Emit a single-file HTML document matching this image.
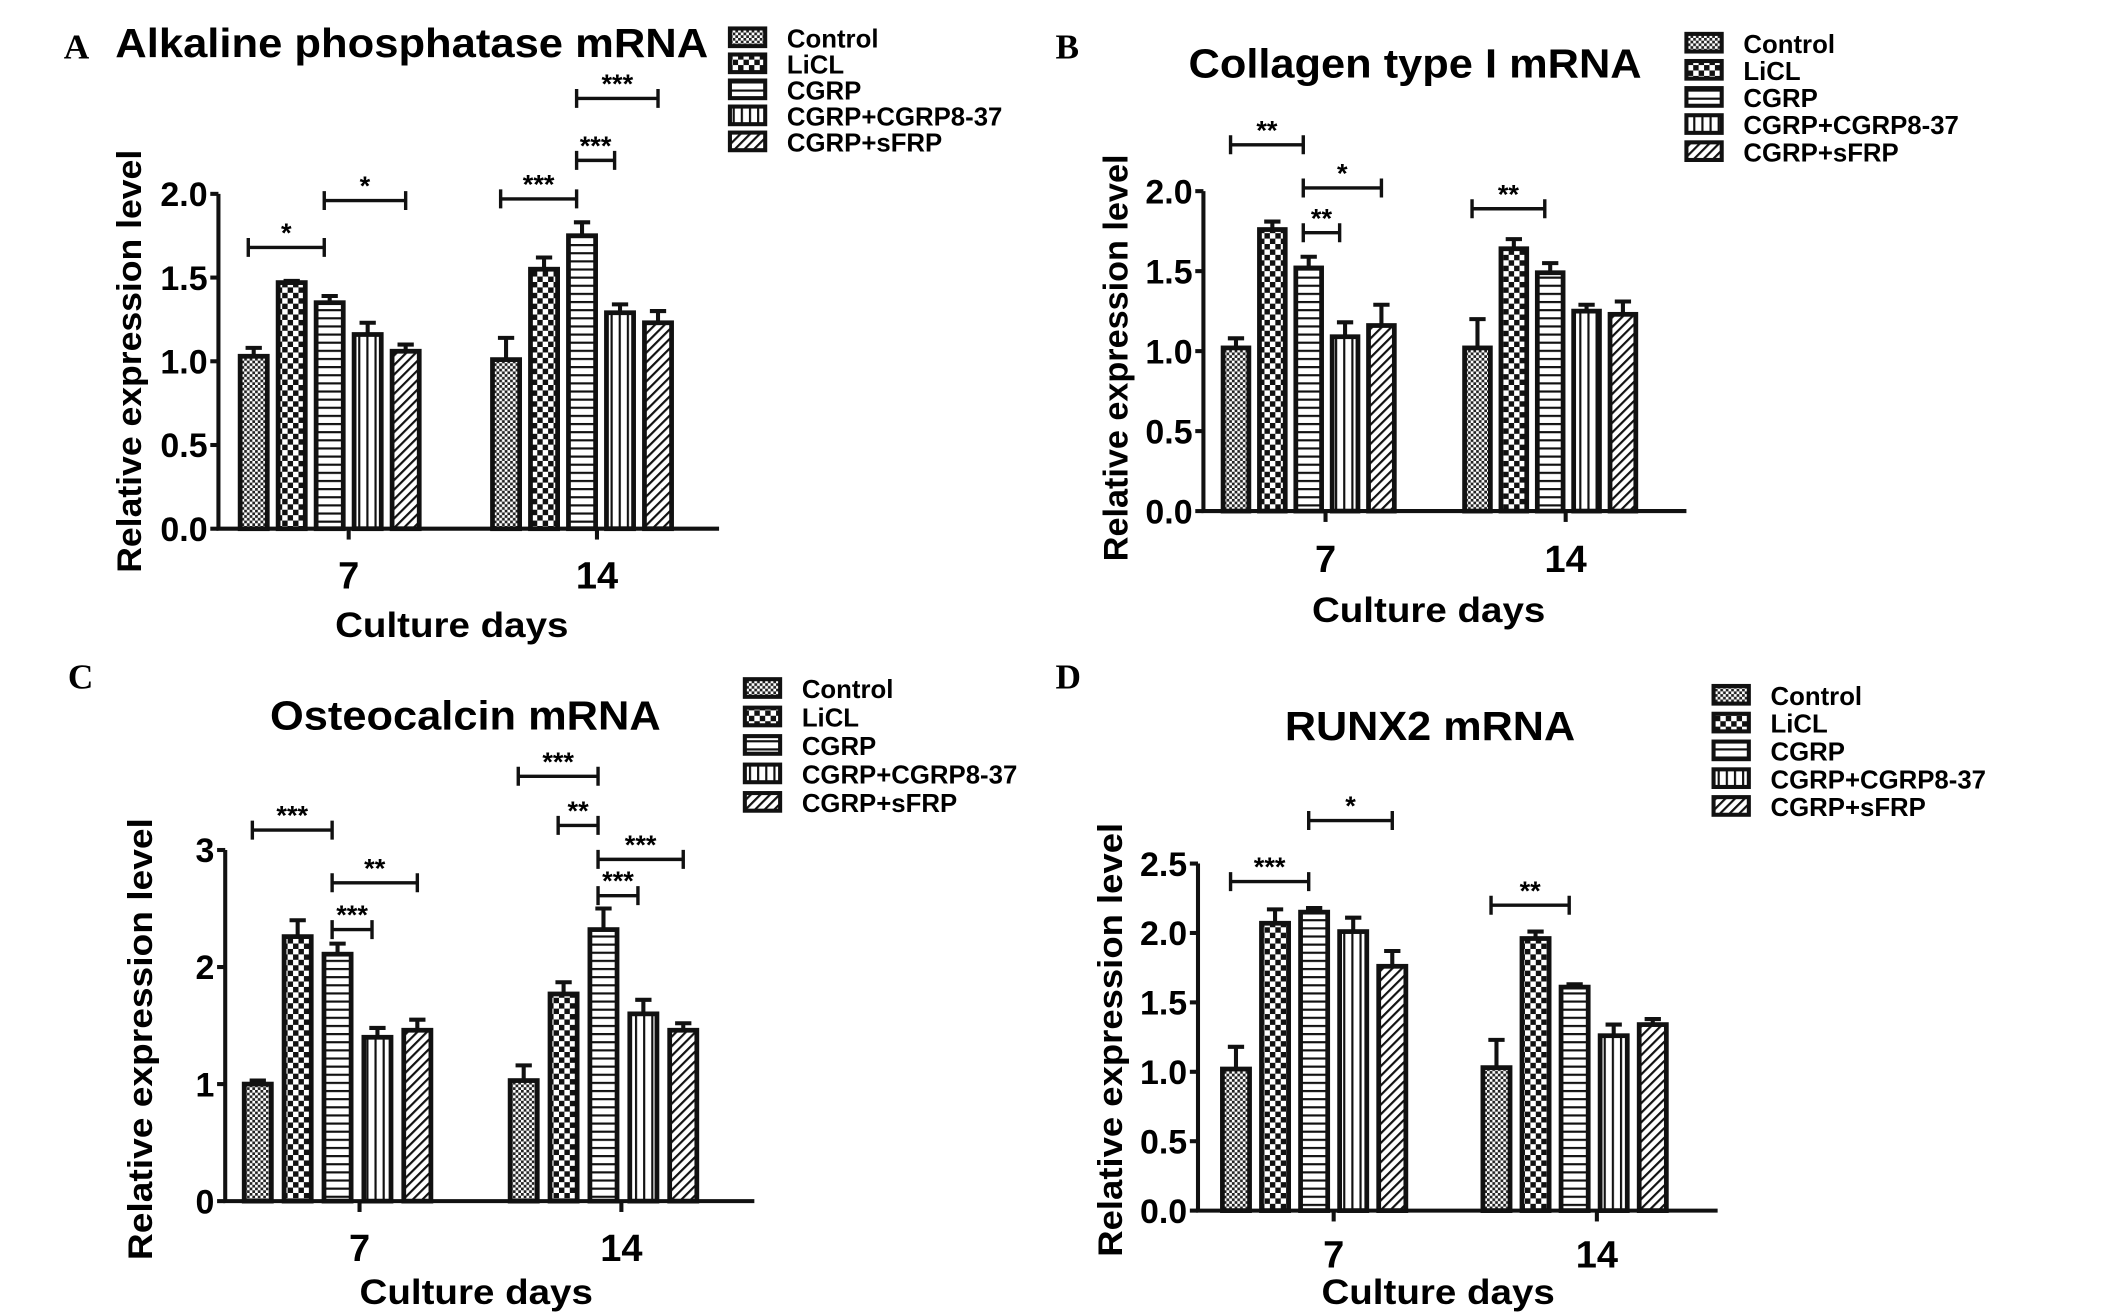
<!DOCTYPE html>
<html><head><meta charset="utf-8"><style>
html,body{margin:0;padding:0;background:#fff;}
svg{display:block;font-family:"Liberation Sans",Arial,sans-serif;font-weight:bold;}
</style></head><body>
<svg id="fig" width="2126" height="1315" viewBox="0 0 1567 970" preserveAspectRatio="none" xmlns="http://www.w3.org/2000/svg">
<defs>
<pattern id="p0" width="4" height="4" patternUnits="userSpaceOnUse"><rect width="4" height="4" fill="#fff"/><rect width="2" height="2" fill="#222"/><rect x="2" y="2" width="2" height="2" fill="#222"/></pattern>
<pattern id="p1" width="8" height="8" patternUnits="userSpaceOnUse"><rect width="8" height="8" fill="#fff"/><rect width="4" height="4" fill="#111"/><rect x="4" y="4" width="4" height="4" fill="#111"/></pattern>
<pattern id="p2" width="6" height="6" patternUnits="userSpaceOnUse"><rect width="6" height="6" fill="#fff"/><rect y="0" width="6" height="1.6" fill="#111"/></pattern>
<pattern id="p3" width="6" height="6" patternUnits="userSpaceOnUse"><rect width="6" height="6" fill="#fff"/><rect x="0" width="1.6" height="6" fill="#111"/></pattern>
<pattern id="p4" width="5" height="5" patternUnits="userSpaceOnUse" patternTransform="rotate(45)"><rect width="5" height="5" fill="#fff"/><rect width="1.6" height="5" fill="#111"/></pattern>
</defs>
</svg>
<script>
const seriesNames=["Control","LiCL","CGRP","CGRP+CGRP8-37","CGRP+sFRP"];
const categories=["7","14"];
// Panel A
const aValues7=[1.03,1.47,1.35,1.16,1.06];
const aValues14=[1.01,1.55,1.75,1.29,1.23];
const aErr7=[0.05,0.01,0.04,0.07,0.04];
const aErr14=[0.13,0.07,0.08,0.05,0.07];
const aTicks=["0.0","0.5","1.0","1.5","2.0"];
const aSig=[[0,0,2,1.68,"*"],[0,2,4,1.96,"*"],[1,0,2,1.97,"***"],[1,2,3,2.2,"***"],[1,2,4,2.57,"***"]];
// Panel B
const bValues7=[1.02,1.76,1.52,1.09,1.16];
const bValues14=[1.02,1.64,1.49,1.25,1.23];
const bErr7=[0.06,0.05,0.07,0.09,0.13];
const bErr14=[0.18,0.06,0.06,0.04,0.08];
const bTicks=["0.0","0.5","1.0","1.5","2.0"];
const bSig=[[0,0,2,2.29,"**"],[0,2,4,2.02,"*"],[0,2,3,1.74,"**"],[1,0,2,1.89,"**"]];
// Panel C
const cValues7=[1.0,2.26,2.11,1.40,1.46];
const cValues14=[1.03,1.77,2.32,1.60,1.46];
const cErr7=[0.03,0.14,0.09,0.08,0.09];
const cErr14=[0.13,0.10,0.18,0.12,0.06];
const cTicks=["0","1","2","3"];
const cSig=[[0,0,2,3.17,"***"],[0,2,4,2.72,"**"],[0,2,3,2.32,"***"],[1,0,2,3.63,"***"],[1,1,2,3.21,"**"],[1,2,4,2.92,"***"],[1,2,3,2.61,"***"]];
// Panel D
const dValues7=[1.02,2.07,2.15,2.01,1.76];
const dValues14=[1.03,1.96,1.61,1.26,1.34];
const dErr7=[0.16,0.10,0.03,0.10,0.11];
const dErr14=[0.20,0.05,0.02,0.08,0.04];
const dTicks=["0.0","0.5","1.0","1.5","2.0","2.5"];
const dSig=[[0,0,2,2.37,"***"],[0,2,4,2.81,"*"],[1,0,2,2.2,"**"]];

const NS="http://www.w3.org/2000/svg";
const svg=document.getElementById('fig');
function mk(tag,attrs,parent,text){const e=document.createElementNS(NS,tag);for(const k in attrs)e.setAttribute(k,attrs[k]);if(text!==undefined)e.textContent=text;(parent||svg).appendChild(e);return e;}

function panel(cfg){
  const g=mk('g',{});
  
  
  const ymax=parseFloat(cfg.ticks[cfg.ticks.length-1]);
  const y=v=>cfg.y0-(v/ymax)*(cfg.y0-cfg.yTop);
  const groups=[cfg.v7,cfg.v14], errs=[cfg.e7,cfg.e14];
  const bx=(gi,bi)=>cfg.gx[gi]+bi*cfg.step;
  const L=mk('text',{x:cfg.lx,y:cfg.ly,'font-family':'Liberation Serif,serif','font-size':26},g,cfg.letter);
  
  
  const T=mk('text',{x:cfg.tx,y:cfg.ty,'font-size':30,'text-anchor':cfg.tAnchor,textLength:cfg.tLen,lengthAdjust:'spacingAndGlyphs'},g,cfg.title);
  
  
  groups.forEach((vals,gi)=>{vals.forEach((v,bi)=>{
    const cx=bx(gi,bi), top=y(v), et=y(v+errs[gi][bi]);
    const eb=mk('path',{d:`M${cx} ${top}V${et}M${cx-6} ${et}H${cx+6}`,stroke:'#111','stroke-width':3,fill:'none'},g);
    
    
    const r=mk('rect',{x:cx-cfg.bw/2,y:top,width:cfg.bw,height:cfg.y0-top,fill:`url(#p${bi})`,stroke:'#111','stroke-width':3.5},g);
    
    
  });});
  const ax=mk('path',{d:`M${cfg.x0} ${cfg.yTop}V${cfg.y0}H${cfg.xEnd}`,stroke:'#111','stroke-width':3,fill:'none'},g);
  
  
  cfg.ticks.forEach(t=>{const yy=y(parseFloat(t));
    mk('path',{d:`M${cfg.x0-6} ${yy}H${cfg.x0}`,stroke:'#111','stroke-width':3},g);
    const tl=mk('text',{x:cfg.x0-8,y:yy+9,'font-size':25,'text-anchor':'end'},g,t);
    
    
  });
  categories.forEach((c,gi)=>{const cx=cfg.cx[gi];
    mk('path',{d:`M${cx} ${cfg.y0}V${cfg.y0+8}`,stroke:'#111','stroke-width':3},g);
    const tl=mk('text',{x:cx,y:cfg.y0+cfg.tkOff,'font-size':28,'text-anchor':'middle'},g,c);
    
    
  });
  const xt=mk('text',{x:cfg.xtX,y:cfg.y0+cfg.xtOff,'font-size':26,'text-anchor':'middle',textLength:172,lengthAdjust:'spacingAndGlyphs'},g,'Culture days');
  
  
  const ym=(cfg.y0+cfg.yTop)/2-cfg.ylShift;
  const yt=mk('text',{x:0,y:0,'font-size':25,'text-anchor':'middle',textLength:cfg.ylLen,lengthAdjust:'spacingAndGlyphs',transform:`translate(${cfg.ylx},${ym}) rotate(-90)`},g,'Relative expression level');
  
  
  cfg.sig.forEach(s=>{const x1=bx(s[0],s[1])-4,x2=bx(s[0],s[2])+(s[2]==4?0:-4),yy=y(s[3]);
    const b=mk('path',{d:`M${x1} ${yy-7}V${yy+7}M${x1} ${yy}H${x2}M${x2} ${yy-7}V${yy+7}`,stroke:'#111','stroke-width':2.5,fill:'none'},g);
    
    
    const st=mk('text',{x:(x1+x2)/2,y:yy-4,'font-size':20,'text-anchor':'middle'},g,s[4]);
    
    
  });
  seriesNames.forEach((n,i)=>{const yy=cfg.legY+i*cfg.legDy;
    const sw=mk('rect',{x:cfg.legX,y:yy-7,width:26,height:13,fill:`url(#p${i})`,stroke:'#111','stroke-width':3},g);
    
    
    const lt=mk('text',{x:cfg.legX+42,y:yy+7,'font-size':19},g,n);
    
    
  });
}
panel({id:'a',letter:'A',lx:47,ly:43,title:'Alkaline phosphatase mRNA',tx:85,ty:42,tAnchor:'start',tLen:437,
  v7:aValues7,v14:aValues14,e7:aErr7,e14:aErr14,ticks:aTicks,sig:aSig,tkOff:44,xtOff:80,
  x0:161,y0:390,yTop:143,xEnd:530,gx:[187,373],step:28,bw:20,cx:[257,440],xtX:333,ylx:104,ylShift:0,ylLen:312,
  legX:538,legY:28,legDy:19.2});
panel({id:'b',letter:'B',lx:778,ly:43,title:'Collagen type I mRNA',tx:1043,ty:57,tAnchor:'middle',tLen:334,
  v7:bValues7,v14:bValues14,e7:bErr7,e14:bErr14,ticks:bTicks,sig:bSig,tkOff:45,xtOff:82,
  x0:887,y0:377,yTop:141,xEnd:1243,gx:[911,1089],step:26.8,bw:19,cx:[977,1154],xtX:1053,ylx:831,ylShift:-5,ylLen:300,
  legX:1243,legY:32,legDy:20});
panel({id:'c',letter:'C',lx:50,ly:508,title:'Osteocalcin mRNA',tx:343,ty:538,tAnchor:'middle',tLen:288,
  v7:cValues7,v14:cValues14,e7:cErr7,e14:cErr14,ticks:cTicks,sig:cSig,tkOff:44,xtOff:76,
  x0:166,y0:886,yTop:627,xEnd:556,gx:[190,386],step:29.4,bw:20,cx:[265,458],xtX:351,ylx:112,ylShift:-10,ylLen:326,
  legX:549,legY:508,legDy:21});
panel({id:'d',letter:'D',lx:778,ly:508,title:'RUNX2 mRNA',tx:1054,ty:546,tAnchor:'middle',tLen:214,
  v7:dValues7,v14:dValues14,e7:dErr7,e14:dErr14,ticks:dTicks,sig:dSig,tkOff:42,xtOff:69,
  x0:883,y0:893,yTop:637,xEnd:1266,gx:[911,1103],step:28.8,bw:20,cx:[983,1177],xtX:1060,ylx:827,ylShift:-2,ylLen:320,
  legX:1263,legY:513,legDy:20.5});
</script>
</body></html>
